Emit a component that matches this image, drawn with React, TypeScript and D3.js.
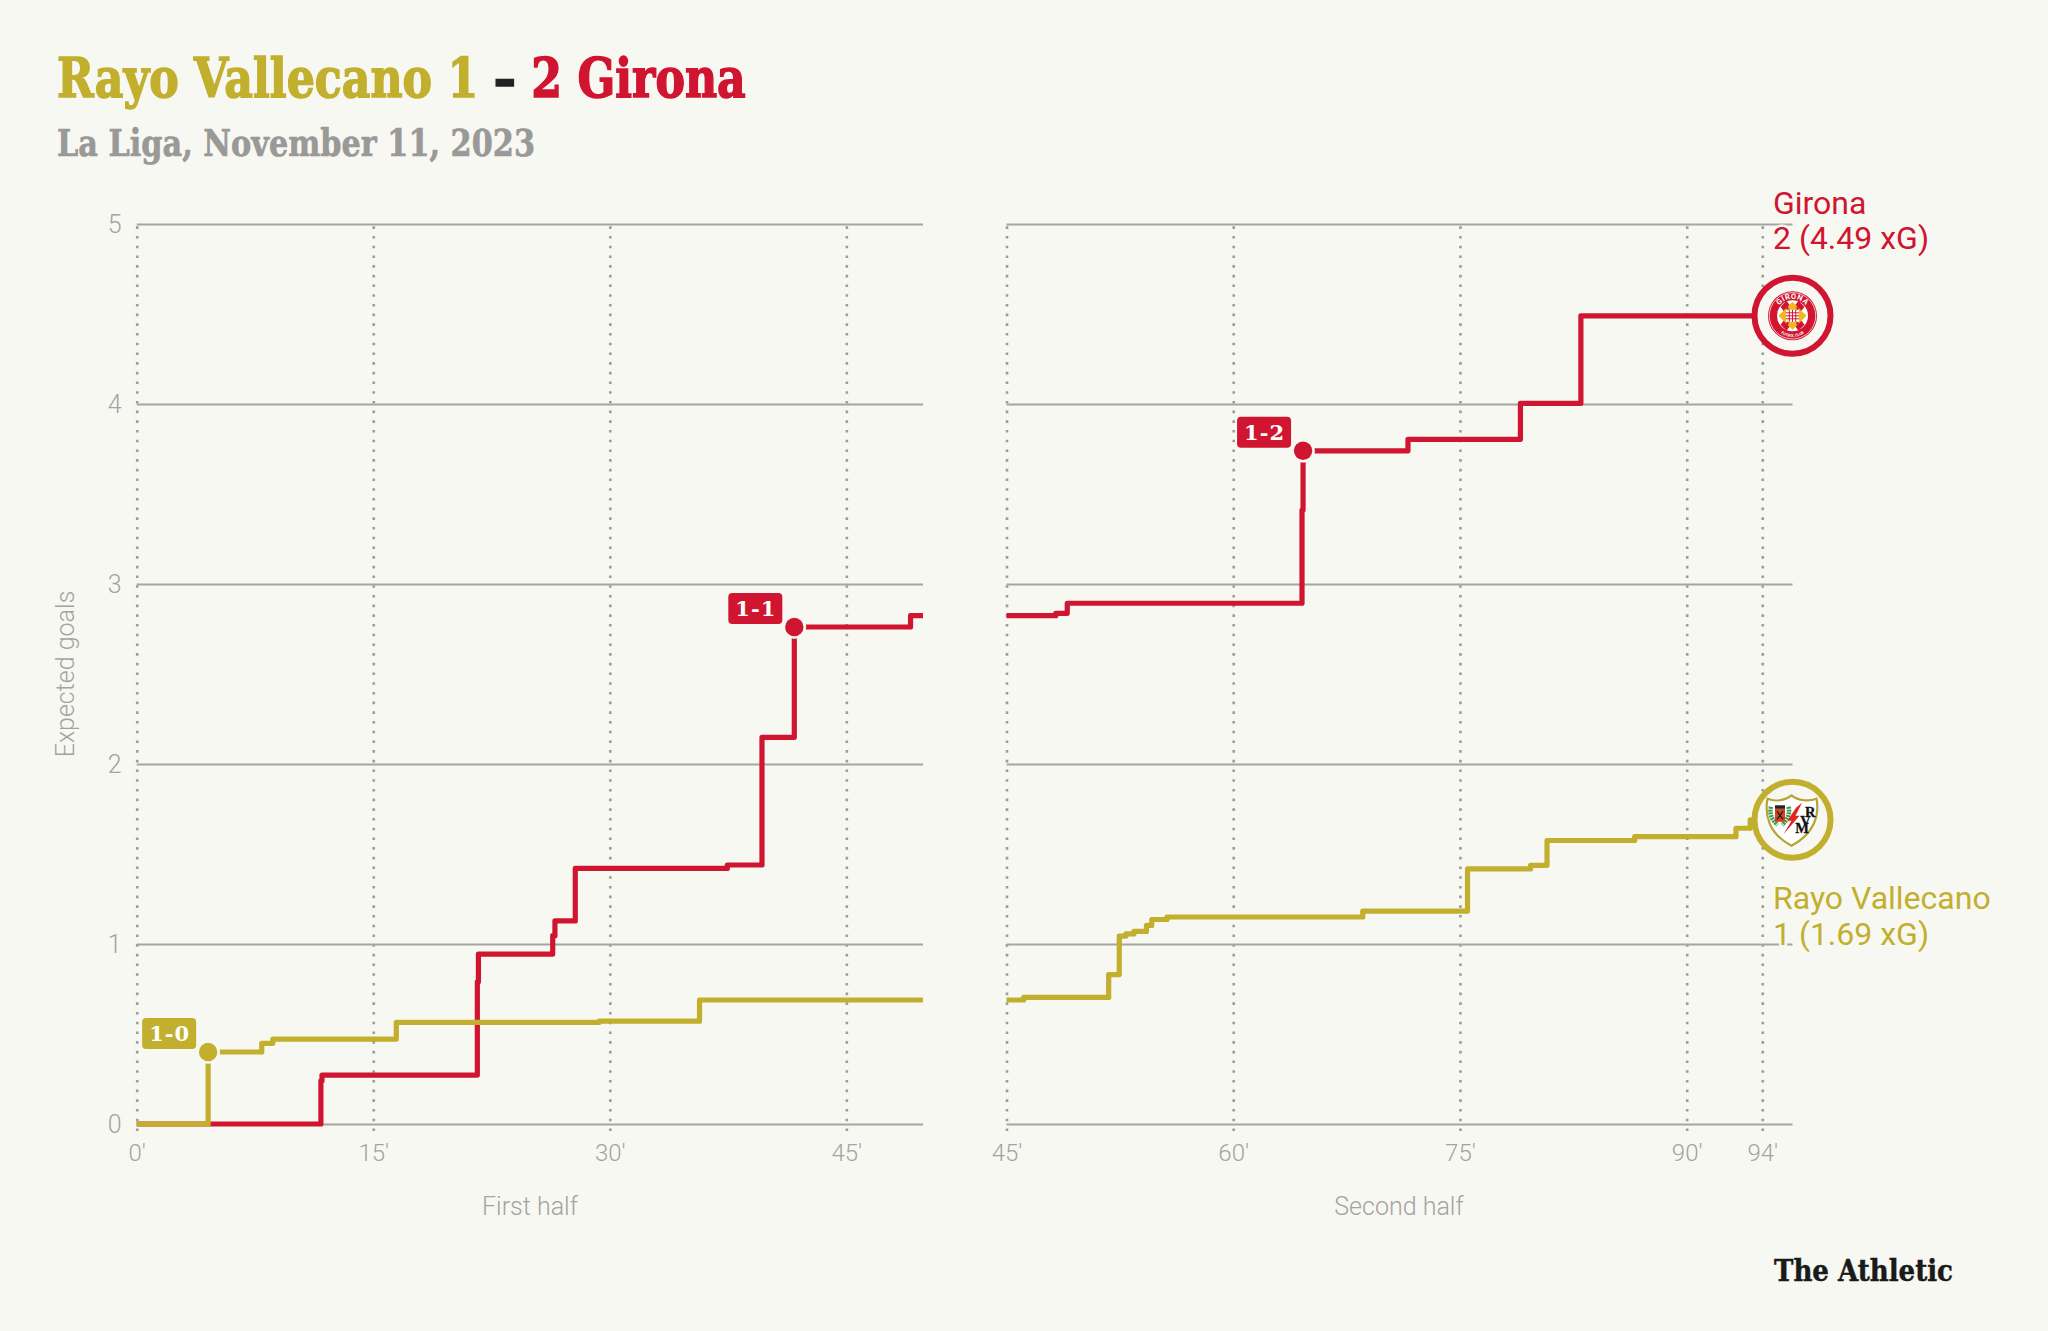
import { useEffect, useRef } from "react";
import * as d3 from "d3";

const GOLD = "#c2af2e";
const RED = "#d01530";
const BG = "#f8f8f3";
const GRID = "#a6a6a1";
const DOTS = "#9c9c98";
const TICK_TEXT = "#a3a3a0";

const firstHalfEnd = 49.86;
const secondHalfEnd = 97;

const firstTicks = [0, 15, 30, 45];
const firstTickLabels = ["0'", "15'", "30'", "45'"];
const secondTicks = [45, 60, 75, 90, 95];
const secondTickLabels = ["45'", "60'", "75'", "90'", "94'"];
const yTicks = [0, 1, 2, 3, 4, 5];

const gironaFirstMinutes = [0, 11.68, 11.75, 21.6, 21.67, 26.38, 26.52, 27.81, 37.45, 39.65, 41.7, 49.07, firstHalfEnd];
const gironaFirstXg = [0, 0.24, 0.272, 0.79, 0.944, 1.046, 1.128, 1.42, 1.439, 2.148, 2.761, 2.824, 2.824];
const rayoFirstMinutes = [0, 4.53, 7.93, 8.63, 16.46, 29.33, 35.69, firstHalfEnd];
const rayoFirstXg = [0, 0.4, 0.448, 0.472, 0.565, 0.571, 0.689, 0.689];

const gironaSecondMinutes = [45, 48.26, 49.02, 64.55, 64.62, 71.56, 79.0, 83.0, secondHalfEnd];
const gironaSecondXg = [2.824, 2.837, 2.893, 3.411, 3.74, 3.804, 4.004, 4.49, 4.49];
const rayoSecondMinutes = [45, 46.14, 51.76, 52.46, 52.9, 53.43, 54.26, 54.61, 55.62, 68.57, 75.5, 79.67, 80.76, 86.56, 93.26, 94.2, secondHalfEnd];
const rayoSecondXg = [0.689, 0.703, 0.83, 1.044, 1.056, 1.07, 1.103, 1.136, 1.15, 1.183, 1.417, 1.437, 1.575, 1.596, 1.643, 1.69, 1.69];

const goalLabels = ["1-0", "1-1", "1-2"];
const goalMinutes = [4.53, 41.7, 64.62];
const goalXg = [0.4, 2.761, 3.74];
const goalColors = [GOLD, RED, RED];

const pairs = (m: number[], v: number[]) => m.map((d, i) => [d, v[i]] as [number, number]);

export default function App() {
  const svgRef = useRef<SVGSVGElement>(null);

  useEffect(() => {
    const svg = d3.select(svgRef.current);
    svg.selectAll("*").remove();

    const y = d3.scaleLinear().domain([0, 5]).range([1124, 224]);
    const xFirst = d3.scaleLinear().domain([0, firstHalfEnd]).range([136.7, 923]);
    const xSecond = d3.scaleLinear().domain([45, secondHalfEnd]).range([1006.5, 1792.5]);
    const xFor = (m: number) => (m <= 45 ? xFirst(m) : xSecond(m));

    svg.append("rect").attr("width", 2048).attr("height", 1331).attr("fill", BG);

    const sans = "Roboto, sans-serif";

    const drawX = (scale: d3.ScaleLinear<number, number>, ticks: number[], labels: string[]) => {
      const g = svg
        .append("g")
        .attr("transform", "translate(0,1124)")
        .call(
          d3
            .axisBottom(scale)
            .tickValues(ticks)
            .tickSize(-899)
            .tickSizeOuter(0)
            .tickFormat((_, i) => labels[i]),
        );
      g.select(".domain").remove();
      g.selectAll(".tick line")
        .attr("y1", 7)
        .attr("stroke", DOTS)
        .attr("stroke-width", 2.6)
        .attr("stroke-dasharray", "2.6 7.1");
      g.selectAll(".tick text")
        .attr("y", 37)
        .attr("dy", 0)
        .attr("fill", TICK_TEXT)
        .attr("font-family", sans)
        .attr("font-weight", 300)
        .attr("font-size", 24);
    };
    drawX(xFirst, firstTicks, firstTickLabels);
    drawX(xSecond, secondTicks, secondTickLabels);

    const drawY = (scale: d3.ScaleLinear<number, number>, withLabels: boolean) => {
      const [x0, x1] = scale.range();
      const g = svg
        .append("g")
        .attr("transform", `translate(${x0},0)`)
        .call(
          d3
            .axisLeft(y)
            .tickValues(yTicks)
            .tickSize(-(x1 - x0))
            .tickSizeOuter(0)
            .tickPadding(15)
            .tickFormat((d) => (withLabels ? String(d) : "")),
        );
      g.select(".domain").remove();
      g.selectAll(".tick line").attr("stroke", GRID).attr("stroke-width", 2);
      g.selectAll(".tick text")
        .attr("fill", TICK_TEXT)
        .attr("font-family", sans)
        .attr("font-weight", 300)
        .attr("font-size", 25);
    };
    drawY(xFirst, true);
    drawY(xSecond, false);

    const drawLine = (scale: d3.ScaleLinear<number, number>, m: number[], v: number[], color: string) => {
      const line = d3
        .line<[number, number]>()
        .x((d) => scale(d[0]))
        .y((d) => y(d[1]))
        .curve(d3.curveStepAfter);
      svg
        .append("path")
        .attr("d", line(pairs(m, v)))
        .attr("fill", "none")
        .attr("stroke", color)
        .attr("stroke-width", 5.2)
        .attr("stroke-linejoin", "round");
    };
    drawLine(xFirst, gironaFirstMinutes, gironaFirstXg, RED);
    drawLine(xFirst, rayoFirstMinutes, rayoFirstXg, GOLD);
    drawLine(xSecond, gironaSecondMinutes, gironaSecondXg, RED);
    drawLine(xSecond, rayoSecondMinutes, rayoSecondXg, GOLD);

    // goal dots and score badges
    goalLabels.forEach((label, i) => {
      const cx = xFor(goalMinutes[i]);
      const cy = y(goalXg[i]);
      svg.append("circle").attr("cx", cx).attr("cy", cy).attr("r", 11.8).attr("fill", BG);
      svg.append("circle").attr("cx", cx).attr("cy", cy).attr("r", 9.2).attr("fill", goalColors[i]);
      svg
        .append("rect")
        .attr("x", cx - 66)
        .attr("y", cy - 34)
        .attr("width", 54)
        .attr("height", 31)
        .attr("rx", 4)
        .attr("fill", goalColors[i]);
      svg
        .append("text")
        .attr("x", cx - 59)
        .attr("y", cy - 11)
        .attr("font-family", "'DejaVu Serif', serif")
        .attr("font-weight", 700)
        .attr("font-size", 21)
        .attr("fill", "#fff")
        .attr("textLength", 40)
        .attr("lengthAdjust", "spacing")
        .text(label);
    });

    // end badges
    const ringX = xSecond(secondHalfEnd);
    [
      { v: 4.49, color: RED },
      { v: 1.69, color: GOLD },
    ].forEach((d) => {
      svg
        .append("circle")
        .attr("cx", ringX)
        .attr("cy", y(d.v))
        .attr("r", 38)
        .attr("fill", BG)
        .attr("stroke", d.color)
        .attr("stroke-width", 6);
    });

    // Girona crest
    const gc = svg.append("g").attr("transform", `translate(${ringX},${y(4.49)})`);
    gc.append("circle").attr("r", 24.5).attr("fill", RED);
    gc.append("circle").attr("r", 23.2).attr("fill", "none").attr("stroke", "#fff").attr("stroke-width", 0.7);
    gc.append("circle").attr("r", 15.5).attr("fill", "#fff");
    gc.append("path").attr("d", "M-12,-9L-6,-15L12,9L6,15Z M6,-15L12,-9L-6,15L-12,9Z").attr("fill", RED);
    gc.append("path").attr("d", "M0,-14L14,0L0,14L-14,0Z").attr("fill", "#f2b81f");
    gc.append("path").attr("d", "M-5,-9V9M5,-9V9").attr("stroke", RED).attr("stroke-width", 2);
    gc.append("rect").attr("x", -6.5).attr("y", -6).attr("width", 13).attr("height", 12).attr("fill", "#fff");
    gc.append("path")
      .attr("d", "M-6.5,-3H6.5M-6.5,0H6.5M-6.5,3H6.5M-3.2,-6V6M0,-6V6M3.2,-6V6")
      .attr("stroke", RED)
      .attr("stroke-width", 1);
    gc.append("defs").append("path").attr("id", "gironaArc").attr("d", "M-17,0A17,17 0 0 1 17,0");
    gc.append("defs").append("path").attr("id", "fcArc").attr("d", "M-21,0A21,21 0 0 0 21,0");
    gc.append("text")
      .attr("font-family", sans)
      .attr("font-weight", 700)
      .attr("font-size", 7.5)
      .attr("letter-spacing", 0.5)
      .attr("fill", "#fff")
      .attr("text-anchor", "middle")
      .append("textPath")
      .attr("href", "#gironaArc")
      .attr("startOffset", "50%")
      .text("GIRONA");
    gc.append("text")
      .attr("font-family", sans)
      .attr("font-weight", 700)
      .attr("font-size", 3.8)
      .attr("fill", "#fff")
      .attr("text-anchor", "middle")
      .append("textPath")
      .attr("href", "#fcArc")
      .attr("startOffset", "50%")
      .text("FUTBOL CLUB");

    // Rayo crest
    const rc = svg.append("g").attr("transform", `translate(${ringX},${y(1.69)})`);
    rc.append("path")
      .attr("d", "M-25,-21C-18,-18 -8,-19 -1,-24.5C6,-19 16,-18 24,-21C27,-5 22,14 -1,26C-24,14 -28,-5 -25,-21Z")
      .attr("fill", "#fff")
      .attr("stroke", "#b7a436")
      .attr("stroke-width", 2.2);
    rc.append("path")
      .attr("d", "M-21.5,-13Q-24,-3 -15,5M-4,-13Q-1.5,-3 -10.5,5")
      .attr("fill", "none")
      .attr("stroke", "#3e9a52")
      .attr("stroke-width", 4.5)
      .attr("stroke-dasharray", "2 0.8");
    rc.append("rect").attr("x", -17.5).attr("y", -11).attr("width", 10).attr("height", 13).attr("fill", "#d9401c");
    rc.append("rect").attr("x", -17.5).attr("y", -14.5).attr("width", 10).attr("height", 3.5).attr("fill", "#222");
    rc.append("path").attr("d", "M-15.5,-8.5L-9.5,-0.5M-9.5,-8.5L-15.5,-0.5").attr("stroke", "#222").attr("stroke-width", 1.4);
    rc.append("path").attr("d", "M9.5,-17L3,-4L7,-4L-9,14.5L-1,1L-5,1L3.5,-12Z").attr("fill", "#e2261c");
    // crest monogram, one text element so the letters stay together
    rc.append("text")
      .attr("x", "17.7 13 9.5")
      .attr("y", "-3 6.3 13")
      .attr("text-anchor", "middle")
      .attr("font-family", "'Liberation Serif', serif")
      .attr("font-weight", 700)
      .attr("font-size", 14.5)
      .attr("fill", "#111")
      .attr("stroke", "#111")
      .attr("stroke-width", 0.3)
      .text("RVM");

    // titles
    const slab = "'DejaVu Serif', serif";
    const title = svg
      .append("text")
      .attr("font-family", slab)
      .attr("font-weight", 700)
      .attr("font-size", 55)
      .attr("stroke-width", 1.6);
    title.append("tspan").attr("fill", GOLD).attr("stroke", GOLD).text("Rayo Vallecano 1 ");
    title.append("tspan").attr("fill", "#222").attr("stroke", "#222").text("– ");
    title.append("tspan").attr("fill", RED).attr("stroke", RED).text("2 Girona");
    const titleWidth = (title.node() as SVGTextElement).getComputedTextLength();
    title.attr("transform", `translate(57,97) scale(${689 / titleWidth},1)`);

    svg
      .append("text")
      .attr("x", 57)
      .attr("y", 156)
      .attr("font-family", slab)
      .attr("font-weight", 700)
      .attr("font-size", 38)
      .attr("fill", "#999997")
      .attr("stroke", "#999997")
      .attr("stroke-width", 0.7)
      .attr("textLength", 478)
      .attr("lengthAdjust", "spacingAndGlyphs")
      .text("La Liga, November 11, 2023");

    // axis titles
    const axisTitle = (txt: string, x: number) =>
      svg
        .append("text")
        .attr("x", x)
        .attr("y", 1215)
        .attr("text-anchor", "middle")
        .attr("font-family", sans)
        .attr("font-weight", 300)
        .attr("font-size", 25)
        .attr("fill", TICK_TEXT)
        .text(txt);
    axisTitle("First half", 530);
    axisTitle("Second half", 1399);
    svg
      .append("text")
      .attr("transform", "translate(74,674) rotate(-90)")
      .attr("text-anchor", "middle")
      .attr("font-family", sans)
      .attr("font-weight", 300)
      .attr("font-size", 25)
      .attr("fill", TICK_TEXT)
      .text("Expected goals");

    // series labels
    const endLabel = (txt: string, ty: number, color: string) =>
      svg
        .append("text")
        .attr("x", 1773)
        .attr("y", ty)
        .attr("font-family", sans)
        .attr("font-size", 32)
        .attr("fill", color)
        .attr("stroke", BG)
        .attr("stroke-width", 5)
        .attr("paint-order", "stroke")
        .text(txt);
    endLabel("Girona", 214, RED);
    endLabel("2 (4.49 xG)", 249, RED);
    endLabel("Rayo Vallecano", 909, GOLD);
    endLabel("1 (1.69 xG)", 945, GOLD);

    svg
      .append("text")
      .attr("x", 1774)
      .attr("y", 1281)
      .attr("font-family", slab)
      .attr("font-weight", 700)
      .attr("font-size", 29)
      .attr("fill", "#1a1a1a")
      .attr("stroke", "#1a1a1a")
      .attr("stroke-width", 0.5)
      .attr("textLength", 179)
      .attr("lengthAdjust", "spacingAndGlyphs")
      .text("The Athletic");
  }, []);

  return (
    <svg
      ref={svgRef}
      width={2048}
      height={1331}
      style={{ position: "absolute", left: 0, top: 0 }}
    ></svg>
  );
}
